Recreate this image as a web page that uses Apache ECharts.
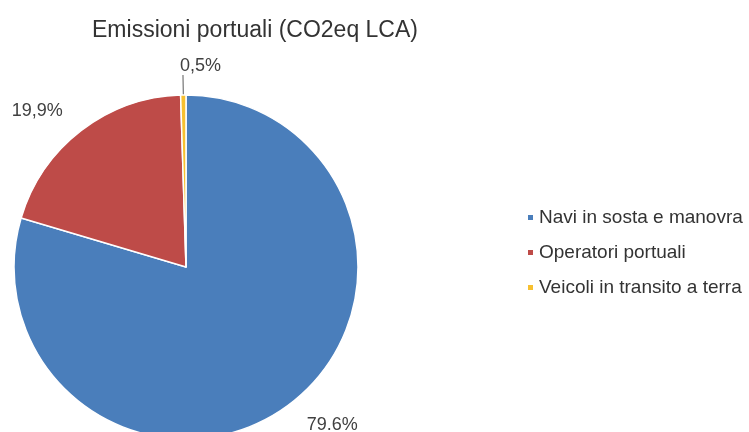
<!DOCTYPE html>
<html>
<head>
<meta charset="utf-8">
<script src="https://cdn.jsdelivr.net/npm/echarts@6/dist/echarts.min.js"></script>
<style>
  html, body { margin: 0; padding: 0; background: #fff; }
  #chart { width: 749px; height: 432px; }
</style>
</head>
<body>
<div id="chart"></div>
<script>
// Quota delle emissioni portuali per sorgente
const categories = ['Navi in sosta e manovra', 'Operatori portuali', 'Veicoli in transito a terra'];
const shares = [79.6, 19.9, 0.5];
const decimalSeparators = ['.', ',', ','];
const colors = ['#4a7ebb', '#be4b48', '#f7c030'];

const chart = echarts.init(document.getElementById('chart'), null, { renderer: 'canvas' });

const font = '"Liberation Sans", Arial, Helvetica, sans-serif';

chart.setOption({
  animation: false,
  color: colors,
  title: {
    text: 'Emissioni portuali (CO2eq LCA)',
    left: 250,
    textAlign: 'center',
    top: 14,
    textStyle: { fontFamily: font, fontSize: 23, fontWeight: 'normal', color: '#333' }
  },
  legend: {
    orient: 'vertical',
    left: 521,
    top: 203,
    icon: 'rect',
    itemWidth: 7,
    itemHeight: 7,
    itemGap: 16,
    textStyle: { fontFamily: font, fontSize: 19, color: '#333' },
    data: categories
  },
  series: [{
    type: 'pie',
    center: [186, 267],
    radius: 172,
    startAngle: 90,
    clockwise: true,
    avoidLabelOverlap: false,
    itemStyle: { borderColor: '#fff', borderWidth: 1.5 },
    label: {
      show: true,
      position: 'outside',
      fontFamily: font,
      fontSize: 18,
      color: '#404040',
      distanceToLabelLine: 3,
      formatter: p => shares[p.dataIndex].toFixed(1).replace('.', decimalSeparators[p.dataIndex]) + '%'
    },
    labelLine: { show: false, length: 25, length2: 0 },
    labelLayout: p => p.dataIndex === 2 ? { align: 'left', verticalAlign: 'bottom' } : {},
    data: categories.map((name, i) => {
      const item = { name: name, value: shares[i] };
      if (i === 2) {
        item.labelLine = { show: true, length: 20, length2: 0, lineStyle: { color: '#595959', width: 1 } };
      }
      return item;
    })
  }]
});
</script>
</body>
</html>
